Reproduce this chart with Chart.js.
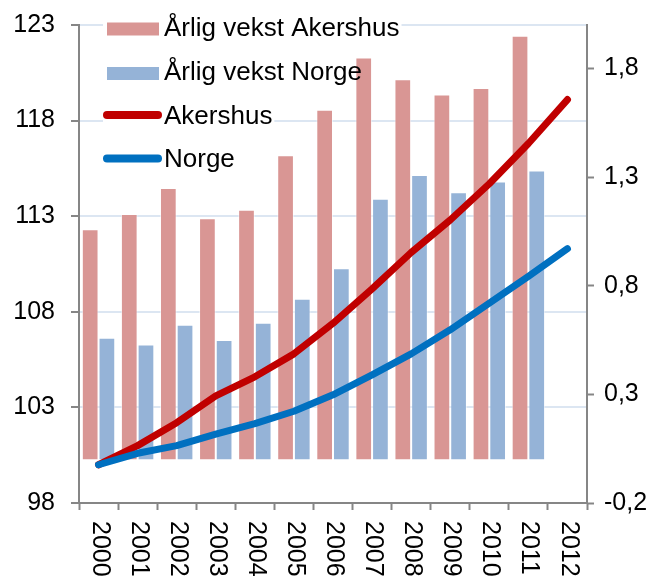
<!DOCTYPE html>
<html>
<head>
<meta charset="utf-8">
<script src="https://cdn.jsdelivr.net/npm/chart.js@4/dist/chart.umd.min.js"></script>
<style>
  body { margin: 0; background: #fff; }
  canvas { display: block; }
</style>
</head>
<body>
<canvas id="myChart" width="656" height="578"></canvas>
<script>
// --- data ---
var years = ['2000', '2001', '2002', '2003', '2004', '2005', '2006', '2007', '2008', '2009', '2010', '2011', '2012'];
var growthAkershus = [1.06, 1.13, 1.25, 1.11, 1.15, 1.40, 1.61, 1.85, 1.75, 1.68, 1.71, 1.95, null];
var growthNorge = [0.56, 0.53, 0.62, 0.55, 0.63, 0.74, 0.88, 1.20, 1.31, 1.23, 1.28, 1.33, null];
var indexAkershus = [100, 101.0, 102.2, 103.6, 104.6, 105.8, 107.4, 109.2, 111.1, 112.8, 114.7, 116.8, 119.1];
var indexNorge = [100, 100.6, 101.0, 101.6, 102.15, 102.8, 103.66, 104.7, 105.8, 107.06, 108.45, 109.85, 111.3];
var rightTicks = [-0.2, 0.3, 0.8, 1.3, 1.8];

var FONT = '"Liberation Sans", Arial, sans-serif';
var axisGray = '#868686';

// legend drawn inside the plot, Excel style
var legendItems = [
  { text: 'Årlig vekst Akershus', kind: 'box', color: '#d99694', base: 35.5 },
  { text: 'Årlig vekst Norge', kind: 'box', color: '#95b3d7', base: 80 },
  { text: 'Akershus', kind: 'line', color: '#c00000', base: 123.5 },
  { text: 'Norge', kind: 'line', color: '#0070c0', base: 167 }
];

var excelBits = {
  id: 'excelBits',
  beforeDatasetsDraw: function(chart) {
    var ctx = chart.ctx;
    ctx.save();
    ctx.font = '26px ' + FONT;
    ctx.fillStyle = '#fff';
    legendItems.forEach(function(it) {
      var w = ctx.measureText(it.text).width;
      ctx.fillRect(103, it.base - 24, 164 + w - 103 + 2, 32);
    });
    ctx.restore();
  },
  afterDraw: function(chart) {
    var ctx = chart.ctx;
    ctx.save();
    // legend
    ctx.font = '26px ' + FONT;
    ctx.textBaseline = 'alphabetic';
    ctx.textAlign = 'left';
    legendItems.forEach(function(it) {
      if (it.kind == 'box') {
        ctx.fillStyle = it.color;
        ctx.fillRect(107, it.base - 13, 52, 13);
      } else {
        ctx.strokeStyle = it.color;
        ctx.lineWidth = 8;
        ctx.lineCap = 'round';
        ctx.beginPath();
        ctx.moveTo(107, it.base - 8.5);
        ctx.lineTo(158, it.base - 8.5);
        ctx.stroke();
      }
      ctx.fillStyle = '#000';
      ctx.fillText(it.text, 164, it.base);
    });
    // x labels, turned clockwise
    var xs = chart.scales.x;
    ctx.font = '25px ' + FONT;
    ctx.textBaseline = 'middle';
    years.forEach(function(y, i) {
      var x = xs.getPixelForTick(i);
      ctx.save();
      ctx.translate(x + 1, 521);
      ctx.rotate(Math.PI / 2);
      ctx.fillText(y, 0, 0);
      ctx.restore();
    });
    ctx.restore();
  }
};

function noPad(s) {
  s.paddingTop = 0;
  s.paddingBottom = 0;
  s.paddingLeft = 0;
  s.paddingRight = 0;
}

var myChart = new Chart(document.getElementById('myChart'), {
  type: 'bar',
  data: {
    labels: years,
    datasets: [
      {
        type: 'line', label: 'Norge', data: indexNorge, yAxisID: 'y',
        borderColor: '#0070c0', borderWidth: 7, borderCapStyle: 'round', borderJoinStyle: 'round',
        pointRadius: 0, tension: 0, order: 0
      },
      {
        type: 'line', label: 'Akershus', data: indexAkershus, yAxisID: 'y',
        borderColor: '#c00000', borderWidth: 7, borderCapStyle: 'round', borderJoinStyle: 'round',
        pointRadius: 0, tension: 0, order: 1
      },
      {
        label: 'Årlig vekst Akershus', data: growthAkershus, yAxisID: 'y2',
        backgroundColor: '#d99694', borderColor: 'rgba(255,255,255,0.55)', borderWidth: 1,
        categoryPercentage: 0.855, barPercentage: 1, order: 2
      },
      {
        label: 'Årlig vekst Norge', data: growthNorge, yAxisID: 'y2',
        backgroundColor: '#95b3d7', borderColor: 'rgba(255,255,255,0.55)', borderWidth: 1,
        categoryPercentage: 0.855, barPercentage: 1, order: 2
      }
    ]
  },
  options: {
    responsive: false,
    animation: false,
    devicePixelRatio: 1,
    layout: { padding: { top: 25, left: 0, right: 0, bottom: 0 } },
    plugins: { legend: { display: false }, tooltip: { enabled: false } },
    scales: {
      x: {
        grid: { offset: true, drawOnChartArea: false, color: axisGray, tickColor: axisGray, tickLength: 7, tickWidth: 2 },
        border: { color: axisGray, width: 2 },
        ticks: { color: 'rgba(0,0,0,0)', font: { family: FONT, size: 25 }, minRotation: 90, maxRotation: 90 },
        afterFit: function(s) { s.height = 75; noPad(s); }
      },
      y: {
        position: 'left',
        min: 98, max: 123,
        ticks: { stepSize: 5, color: '#000', padding: 16, font: { family: FONT, size: 25 } },
        grid: { color: '#dce6f2', lineWidth: 2, tickColor: axisGray, tickLength: 8, tickWidth: 2 },
        border: { color: axisGray, width: 2 },
        afterFit: function(s) { s.width = 79; noPad(s); }
      },
      y2: {
        position: 'right',
        min: -0.2, max: 2.0,
        afterBuildTicks: function(s) { s.ticks = rightTicks.map(function(v) { return { value: v }; }); },
        ticks: {
          color: '#000', padding: 10, font: { family: FONT, size: 25 },
          callback: function(v) { return v.toFixed(1).replace('.', ','); }
        },
        grid: { drawOnChartArea: false, tickColor: axisGray, tickLength: 7, tickWidth: 2 },
        border: { color: axisGray, width: 2 },
        afterFit: function(s) { s.width = 69; noPad(s); }
      }
    }
  },
  plugins: [excelBits]
});
</script>
</body>
</html>
